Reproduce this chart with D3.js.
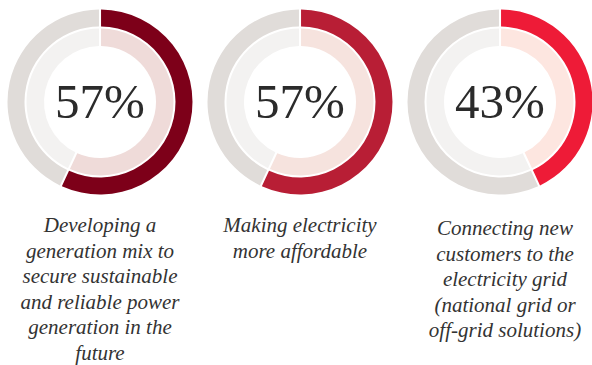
<!DOCTYPE html>
<html>

<head>
  <meta charset="utf-8">
  <title>Donuts</title>
  <script src="https://cdn.jsdelivr.net/npm/d3@7"></script>
  <style>
    body { margin: 0; background: #fff; }
  </style>
</head>

<body>
  <svg id="chart" width="592" height="365"></svg>

  <script>
    // data
    const shares = [57, 57, 43];
    const labels = [
      ["Developing a", "generation mix to", "secure sustainable", "and reliable power", "generation in the", "future"],
      ["Making electricity", "more affordable"],
      ["Connecting new", "customers to the", "electricity grid", "(national grid or", "off-grid solutions)"]
    ];
    const outerColors = ["#7d0019", "#b81e35", "#ee1b37"];
    const innerColors = ["#efdbd9", "#f6e3de", "#fde6e0"];

    const svg = d3.select("#chart");
    const cx = d3.scalePoint().domain(d3.range(shares.length)).range([100, 500]);
    const cy = 102;
    const labelTop = [232, 232, 235];
    const lineH = 25.6;

    const pie = d3.pie().sort(null).value(d => d).padAngle(0.025);
    const outerArc = d3.arc().innerRadius(75.5).outerRadius(92.5).padRadius(84);
    const innerArc = d3.arc().innerRadius(56).outerRadius(73.5).padRadius(84);

    shares.forEach(function (v, i) {
      const g = svg.append("g").attr("transform", `translate(${cx(i)},${cy})`);
      const slices = pie([v, 100 - v]);

      g.selectAll("path.outer")
        .data(slices)
        .enter()
        .append("path")
        .attr("class", "outer")
        .attr("d", outerArc)
        .attr("fill", (d, j) => j === 0 ? outerColors[i] : "#e0dcd9");

      g.selectAll("path.inner")
        .data(slices)
        .enter()
        .append("path")
        .attr("class", "inner")
        .attr("d", innerArc)
        .attr("fill", (d, j) => j === 0 ? innerColors[i] : "#f3f2f1");

      g.append("text")
        .text(v + "%")
        .attr("text-anchor", "middle")
        .attr("y", 16)
        .attr("font-family", "Liberation Serif, serif")
        .attr("font-size", "49px")
        .attr("fill", "#2b2b2b");

      // label under the donut
      svg.append("text")
        .attr("text-anchor", "middle")
        .attr("font-family", "Liberation Serif, serif")
        .attr("font-style", "italic")
        .attr("font-size", "21px")
        .attr("fill", "#333")
        .selectAll("tspan")
        .data(labels[i])
        .enter()
        .append("tspan")
        .attr("x", cx(i) + (i === 2 ? 5 : 0))
        .attr("y", (d, k) => labelTop[i] + k * lineH)
        .text(d => d);
    });
  </script>
</body>

</html>
